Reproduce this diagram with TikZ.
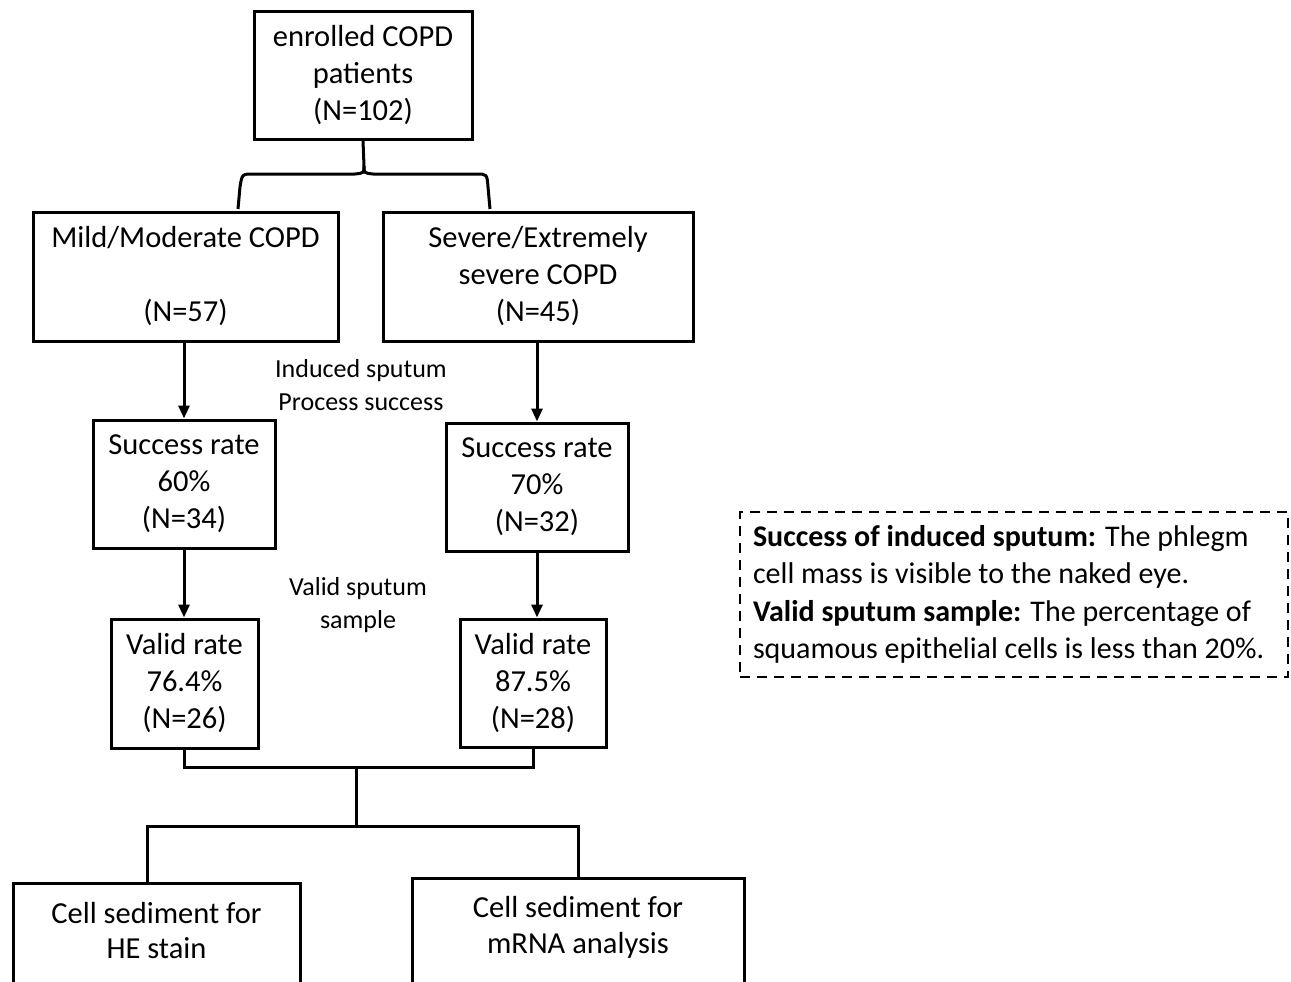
\documentclass[tikz,border=0pt]{standalone}
\usepackage{fontspec}
\setmainfont{Carlito}
\usetikzlibrary{arrows.meta}
\begin{document}
\begin{tikzpicture}[x=1pt,y=-1pt,
  line width=3pt,
  box/.style={draw, line width=3pt, align=center, inner sep=0pt,
    font=\fontsize{30.5}{37}\selectfont},
  lbl/.style={align=center, inner sep=0pt, font=\fontsize{26}{32.5}\selectfont},
  txt/.style={align=center, inner sep=0pt, font=\fontsize{30.5}{35.5}\selectfont},
  note/.style={draw, dash pattern=on 10pt off 7pt, line width=2.6pt, inner sep=0pt,
    font=\fontsize{30}{37.3}\selectfont},
  arr/.style={-{Triangle[length=13pt,width=11pt]}, line width=3pt}]
\clip (0,0) rectangle (1291,982);
\fill[white] (0,0) rectangle (1291,982);

\node[box, minimum width=218, minimum height=127] (top) at (363,75.5)
  {enrolled COPD\\patients\\(N=102)};
\node[box, minimum width=305, minimum height=129] (mild) at (185.5,276.5)
  {Mild/Moderate COPD\\ \\(N=57)};
\node[box, minimum width=310, minimum height=129] (sev) at (538,276.5)
  {Severe/Extremely\\severe COPD\\(N=45)};
\node[box, minimum width=182, minimum height=128] (succL) at (184,484)
  {Success rate\\60\%\\(N=34)};
\node[box, minimum width=182, minimum height=128] (succR) at (537,487)
  {Success rate\\70\%\\(N=32)};
\node[box, minimum width=147, minimum height=129] (validL) at (184.5,683.5)
  {Valid rate\\76.4\%\\(N=26)};
\node[box, minimum width=146, minimum height=128] (validR) at (533,683)
  {Valid rate\\87.5\%\\(N=28)};
\node[box, minimum width=287, minimum height=160, anchor=north] (he) at (156.5,882) {};
\node[txt] (hetxt) at ([yshift=-48.5]he.north) {Cell sediment for\\HE stain};
\node[box, minimum width=332, minimum height=160, anchor=north] (mrna) at (578,877) {};
\node[txt] (mrnatxt) at ([yshift=-50.5]mrna.north) {Cell sediment for\\mRNA analysis};

\node[lbl] (l1) at (361,385) {Induced sputum\\Process success};
\node[lbl] (l2) at (358,605) {Valid sputum\\sample};

\node[note, minimum width=548, minimum height=165] (def) at (1014,594.5) {%
  \begin{minipage}{522pt}\raggedright
  \textbf{Success of induced sputum:} The phlegm\\
  cell mass is visible to the naked eye.\\
  \textbf{Valid sputum sample:} The percentage of\\
  squamous epithelial cells is less than 20\%.
  \end{minipage}};

% brace
\coordinate (bm) at (364,166);
\coordinate (bl) at (238,209);
\coordinate (br) at (490,209);
\draw (top.south) -- (bm) .. controls (364,173) .. (373,174) -- (476,174)
  .. controls (487,174) .. (488,187) -- (br);
\draw (bm) .. controls (364,173) .. (355,174) -- (254,174)
  .. controls (242,174) .. (240,187) -- (bl);

% arrows
\draw[arr] (mild.south -| succL.north) -- (succL.north);
\draw[arr] (succR.north |- sev.south) -- (succR.north);
\draw[arr] (succL.south) -- (validL.north -| succL.south);
\draw[arr] (succR.south) -- (succR.south |- validR.north);

% merge and split
\coordinate (mg) at (356,767);
\coordinate (sp) at (356,826);
\draw (validL.south) |- (mg) -| (validR.south);
\draw (mg) -- (sp);
\draw (sp) -| ([xshift=-9.5pt]he.north);
\draw (sp) -| (mrna.north);
\end{tikzpicture}
\end{document}
